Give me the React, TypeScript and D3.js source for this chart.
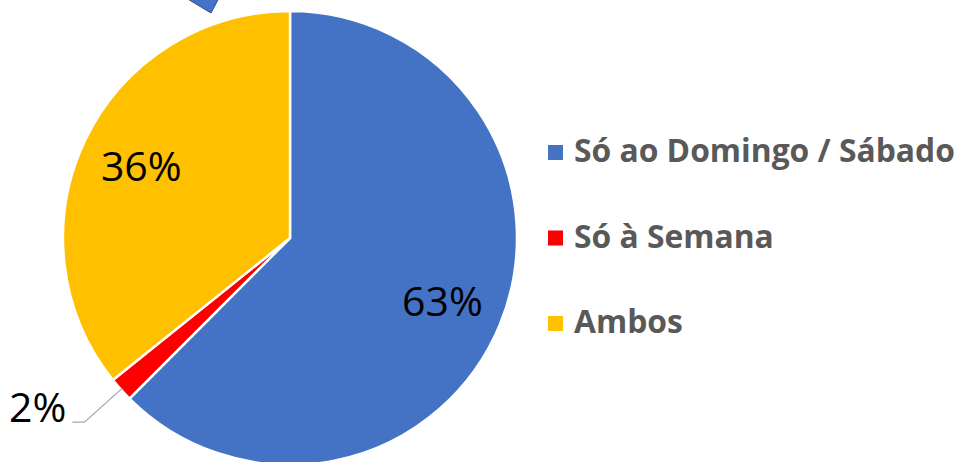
import * as d3 from "d3";

const categories = ["Só ao Domingo / Sábado", "Só à Semana", "Ambos"];
const shares = [62.5, 1.75, 35.75];
const pctLabels = ["63%", "2%", "36%"];
const colors = ["#4472C4", "#FF0000", "#FFC000"];

const width = 963;
const height = 462;
const cx = 290;
const cy = 238;
const radius = 227;

export default function App() {
  const pie = d3.pie<number>().sort(null).value((d) => d)(shares);
  const arc = d3.arc<d3.PieArcDatum<number>>().innerRadius(0).outerRadius(radius);
  const labelArc = d3.arc<d3.PieArcDatum<number>>().innerRadius(165).outerRadius(165);
  const edgeArc = d3.arc<d3.PieArcDatum<number>>().innerRadius(radius - 2).outerRadius(radius - 2);
  const outerArc = d3.arc<d3.PieArcDatum<number>>().innerRadius(276).outerRadius(276);

  const legendY = d3.scalePoint<string>().domain(categories).range([162, 333]);

  return (
    <svg width={width} height={height} style={{ position: "absolute", left: 0, top: 0, background: "#fff" }} fontFamily="'Open Sans', sans-serif">
      {/* stray callout tip above the pie */}
      <polygon points="186,-2 219,-2 211,13" fill="#4472C4" stroke="#2F528F" strokeWidth={1} />
      <g transform={`translate(${cx},${cy})`}>
        {pie.map((slice, i) => (
          <path key={categories[i]} d={arc(slice) ?? ""} fill={colors[i]} stroke="#fff" strokeWidth={2.5} strokeLinejoin="round" />
        ))}
        {pie.map((slice, i) => {
          if (i === 1) {
            const [sx, sy] = edgeArc.centroid(slice);
            const [ox, oy] = outerArc.centroid(slice);
            return (
              <g key="outside">
                <polyline points={`${sx},${sy} ${ox},${oy} ${ox - 12},${oy}`} fill="none" stroke="#A6A6A6" strokeWidth={1.2} />
                <text x={ox - 18} y={oy} textAnchor="end" fontSize={41} fill="#000">{pctLabels[i]}</text>
              </g>
            );
          }
          const [lx, ly] = labelArc.centroid(slice);
          return (
            <text key={`l-${i}`} x={lx} y={ly} dy="0.36em" textAnchor="middle" fontSize={41} fill="#000">{pctLabels[i]}</text>
          );
        })}
      </g>
      <g>
        {categories.map((c, i) => (
          <g key={c} transform={`translate(548, ${legendY(c)})`}>
            <rect x={0} y={-17} width={15} height={15} fill={colors[i]} />
            <text x={26} y={0} fontSize={31.8} fontWeight={700} fill="#595959">{c}</text>
          </g>
        ))}
      </g>
    </svg>
  );
}
